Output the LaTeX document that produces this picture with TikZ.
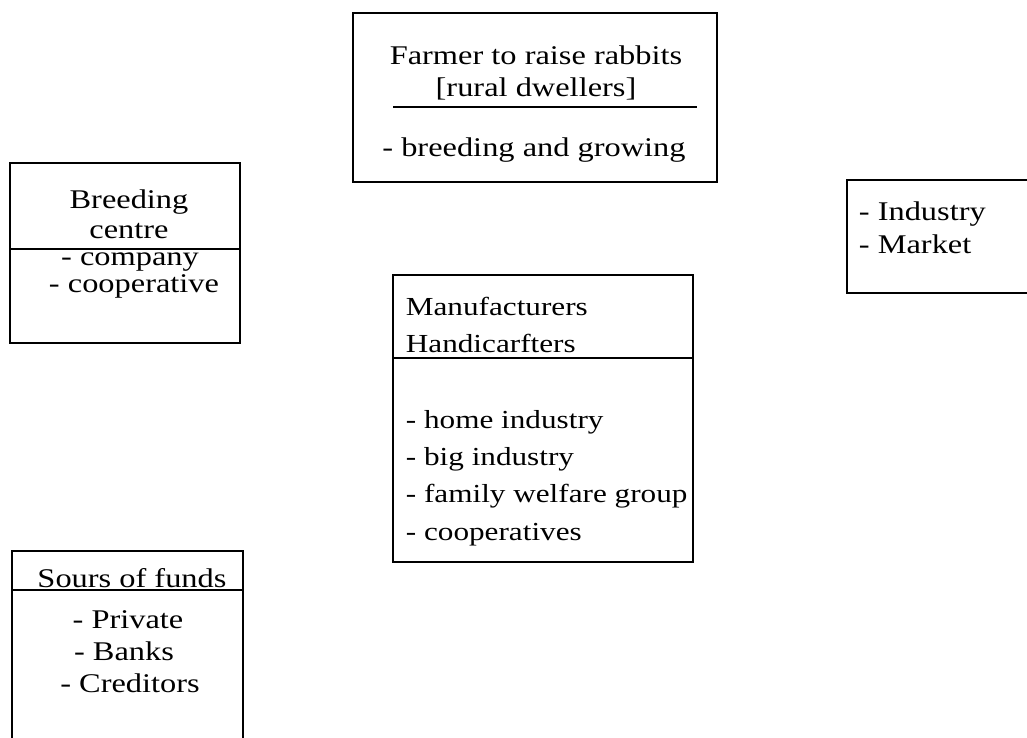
\documentclass[tikz,border=0pt]{standalone}
\usepackage{fontspec}
\setmainfont{Liberation Serif}[FakeStretch=1.2]
\begin{document}
\begin{tikzpicture}[x=1pt, y=-1pt, line width=1.8pt,
  txt/.style={inner sep=0pt, anchor=base, font=\fontsize{27}{32}\selectfont},
  ltxt/.style={txt, anchor=base west, font=\fontsize{26}{31}\selectfont}]
\useasboundingbox (0,0) rectangle (1027,738);
% farmer box
\draw (353,13) rectangle (717,182);
\draw (393,107) -- (697,107);
\node[txt] (farmer) at (536,65) {Farmer to raise rabbits};
\node[txt] (rural) at (536,97) {[rural dwellers]};
\node[txt] (breedgrow) at (534,157) {- breeding and growing};
% breeding centre box
\draw (10,163) rectangle (240,343);
\draw (10,249) -- (240,249);
\node[txt] (breeding) at (129,208) {Breeding};
\node[txt] (centre) at (129,238) {centre};
\node[txt] (company) at (130,265) {- company};
\node[txt] (coop) at (134,292) {- cooperative};
% industry / market box
\draw (1040,180) -- (847,180) -- (847,293) -- (1040,293);
\node[ltxt, font=\fontsize{27}{32}\selectfont] (industry) at (858,220) {- Industry};
\node[ltxt, font=\fontsize{27}{32}\selectfont] (market) at (858,253) {- Market};
% manufacturers box
\draw (393,275) rectangle (693,562);
\draw (393,358) -- (693,358);
\node[ltxt] (manuf) at (405,315) {Manufacturers};
\node[ltxt] (handi) at (405,352) {Handicarfters};
\node[ltxt] (home) at (405,428) {- home industry};
\node[ltxt] (big) at (405,465) {- big industry};
\node[ltxt] (family) at (405,502) {- family welfare group};
\node[ltxt] (coops) at (405,540) {- cooperatives};
% sources of funds box
\draw (12,750) -- (12,551) -- (243,551) -- (243,750);
\draw (12,590) -- (243,590);
\node[txt] (funds) at (132,587) {Sours of funds};
\node[txt] (private) at (128,628) {- Private};
\node[txt] (banks) at (124,660) {- Banks};
\node[txt] (creditors) at (130,692) {- Creditors};
\end{tikzpicture}
\end{document}
